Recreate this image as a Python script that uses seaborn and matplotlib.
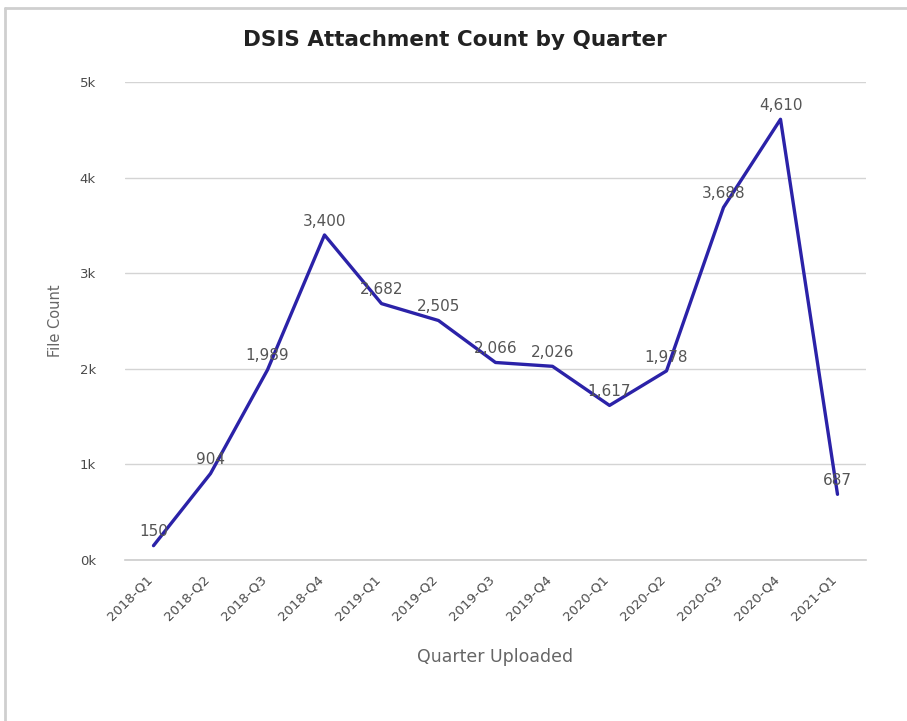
import matplotlib
matplotlib.use("Agg")
import matplotlib.pyplot as plt
import matplotlib.transforms as mtransforms
import seaborn as sns
import pandas as pd
from matplotlib.lines import Line2D

quarters = ["2018-Q1", "2018-Q2", "2018-Q3", "2018-Q4", "2019-Q1", "2019-Q2", "2019-Q3",
            "2019-Q4", "2020-Q1", "2020-Q2", "2020-Q3", "2020-Q4", "2021-Q1"]
file_counts = [150, 904, 1989, 3400, 2682, 2505, 2066, 2026, 1617, 1978, 3688, 4610, 687]
y_ticks = [0, 1000, 2000, 3000, 4000, 5000]
y_tick_labels = ["0k", "1k", "2k", "3k", "4k", "5k"]

df = pd.DataFrame({"Quarter": quarters, "Count": file_counts})

sns.set_style("white")
plt.rcParams["font.family"] = ["DejaVu Sans"]

fig = plt.figure(figsize=(9.07, 7.21), dpi=100)
W, H = 907, 721
ax = fig.add_axes([125 / W, 1 - 560 / H, (866 - 125) / W, (560 - 82) / H])

sns.lineplot(data=df, x="Quarter", y="Count", ax=ax, color="#2b22a8", linewidth=2.4, sort=False)

ax.set_xlim(-0.5, len(quarters) - 0.5)
ax.set_ylim(0, 5000)
ax.set_yticks(y_ticks, y_tick_labels)
ax.yaxis.grid(True, color="#d4d4d4", linewidth=1.0)
ax.xaxis.grid(False)
ax.set_axisbelow(True)

for s in ["top", "right", "left"]:
    ax.spines[s].set_visible(False)
ax.spines["bottom"].set_color("#cccccc")
ax.spines["bottom"].set_linewidth(1.2)

# Category labels at centers, tick marks at band boundaries
ax.set_xticks(range(len(quarters)))
ax.set_xticklabels(quarters, rotation=45, ha="right", rotation_mode="anchor",
                   fontsize=9.5, color="#4a4a4a")
ax.tick_params(axis="x", which="major", length=0, pad=9)
ax.set_xticks([i - 0.5 for i in range(len(quarters) + 1)], minor=True)
ax.tick_params(axis="x", which="minor", length=14, color="#cccccc", width=1.2)
ax.tick_params(axis="y", length=0, pad=21, labelsize=9.5, labelcolor="#4a4a4a")

offset = mtransforms.ScaledTranslation(-8 / 100, 0, fig.dpi_scale_trans)
for lbl in ax.get_xticklabels():
    lbl.set_transform(lbl.get_transform() + offset)

for i, v in enumerate(file_counts):
    ax.annotate(f"{v:,}", (i, v), xytext=(0, 10), textcoords="offset points",
                ha="center", va="center", fontsize=11, color="#555555")

ax.set_xlabel("Quarter Uploaded", fontsize=12.5, color="#666666", labelpad=18)
ax.set_ylabel("File Count", fontsize=10.5, color="#666666", labelpad=12)

fig.text(455 / W, 1 - 40 / H, "DSIS Attachment Count by Quarter", ha="center", va="center",
         fontsize=15.5, fontweight="bold", color="#222222")

# Outer frame (top and left edges visible)
fig.add_artist(Line2D([5 / W, 1], [1 - 8 / H, 1 - 8 / H], transform=fig.transFigure,
                      color="#cfcfcf", linewidth=2))
fig.add_artist(Line2D([5 / W, 5 / W], [0, 1 - 8 / H], transform=fig.transFigure,
                      color="#cfcfcf", linewidth=2))

fig.savefig("out.png", dpi=100)
